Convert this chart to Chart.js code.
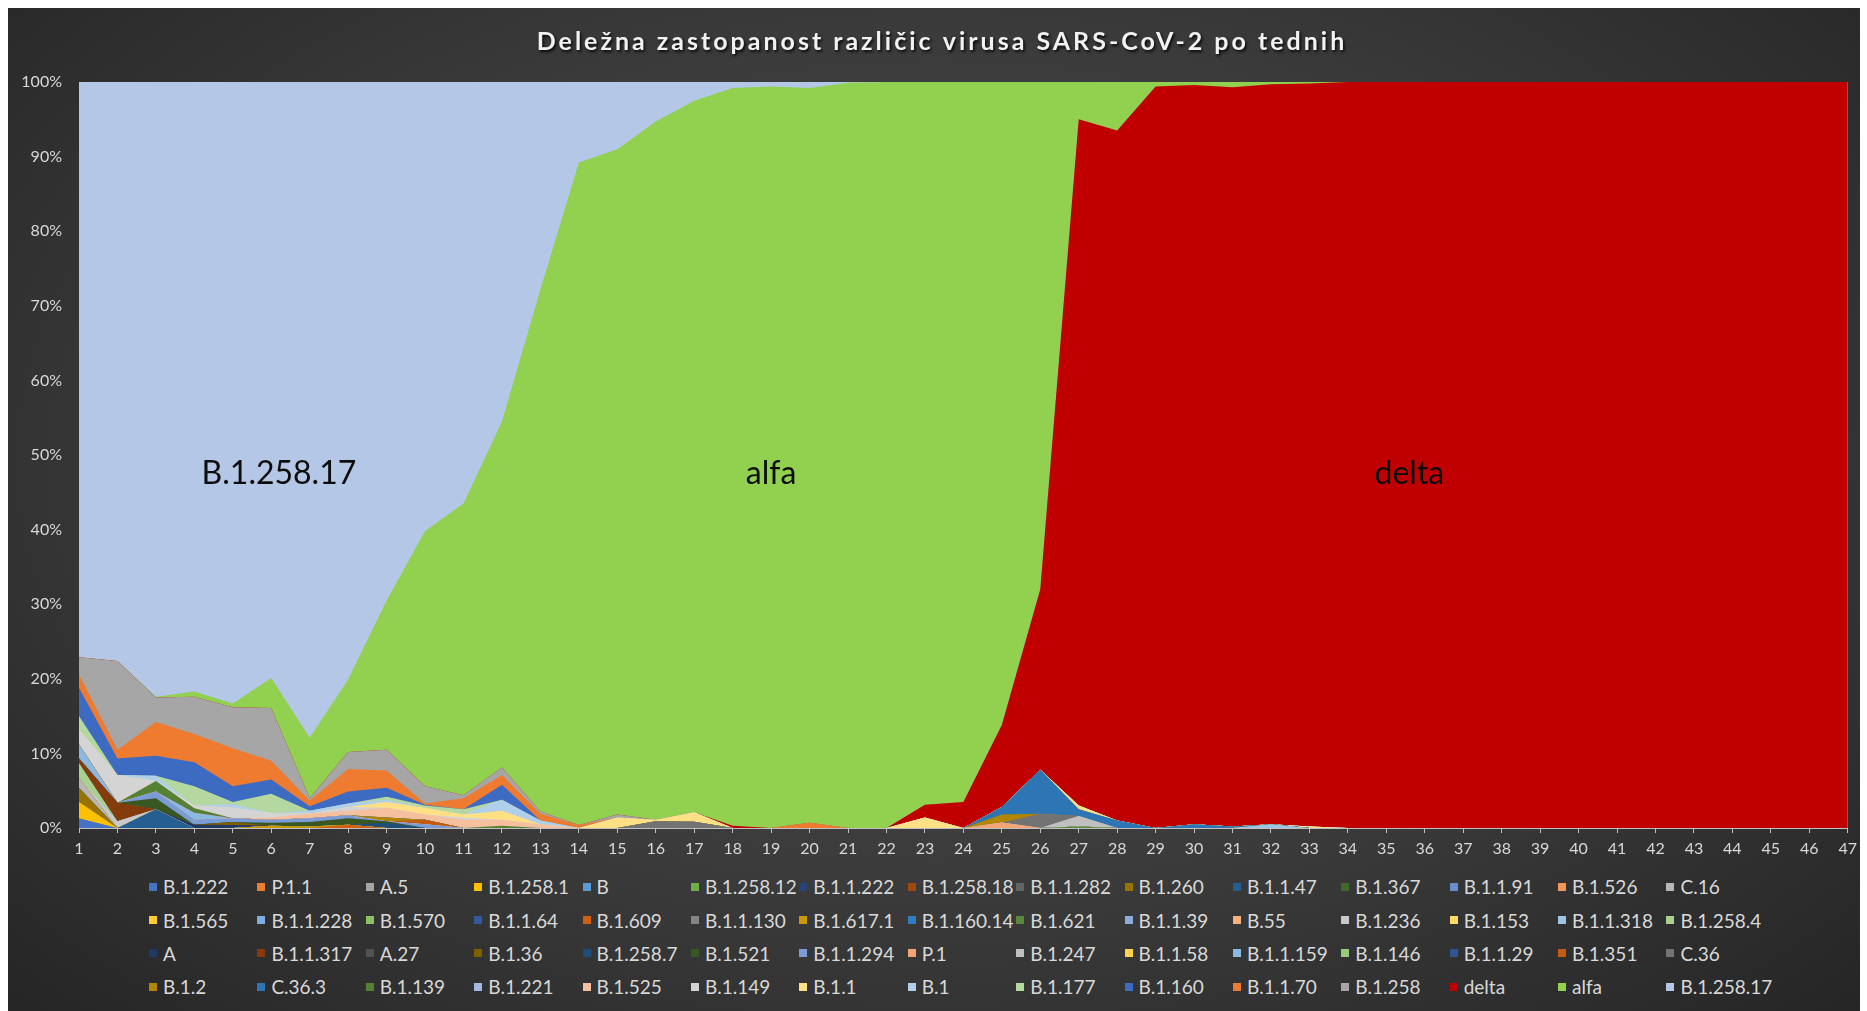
<!DOCTYPE html>
<html lang="sl">
<head>
<meta charset="utf-8">
<title>Deležna zastopanost različic virusa SARS-CoV-2 po tednih</title>
<script src="https://cdn.jsdelivr.net/npm/chart.js@4.4.0/dist/chart.umd.min.js"></script>
<style>
  html, body { margin: 0; padding: 0; background: #fff; width: 1867px; height: 1011px; overflow: hidden; }
  #panel {
    position: absolute; left: 8px; top: 8px; width: 1852px; height: 1003px; overflow: hidden;
    background: radial-gradient(ellipse 75% 85% at 50% 45%, #4a4a4a 0%, #3b3b3b 50%, #222 100%);
  }
  #chart { position: absolute; left: 0; top: 0; }
  #legend {
    position: absolute; left: 141px; top: 862px;
    display: grid; grid-template-columns: repeat(15, 108.4px); grid-auto-rows: 33.4px;
    font-family: Lato, sans-serif; font-size: 19px; color: #d9d9d9;
  }
  .item { display: flex; align-items: center; white-space: nowrap; }
  .box { width: 8px; height: 8px; margin-right: 6px; flex: none; }
</style>
</head>
<body>
<div id="panel">
  <canvas id="chart" width="1855" height="860"></canvas>
  <div id="legend"></div>
</div>
<script>
// tedni
var weeks = ['1','2','3','4','5','6','7','8','9','10','11','12','13','14','15','16','17','18','19','20','21','22','23','24',
             '25','26','27','28','29','30','31','32','33','34','35','36','37','38','39','40','41','42','43','44','45','46','47'];

// vrstni red v skladu (od spodaj navzgor) = vrstni red legende
var variantNames = [
    'B.1.222','P.1.1','A.5','B.1.258.1','B','B.1.258.12','B.1.1.222','B.1.258.18','B.1.1.282','B.1.260','B.1.1.47','B.1.367','B.1.1.91','B.1.526','C.16',
    'B.1.565','B.1.1.228','B.1.570','B.1.1.64','B.1.609','B.1.1.130','B.1.617.1','B.1.160.14','B.1.621','B.1.1.39','B.55','B.1.236','B.1.153','B.1.1.318','B.1.258.4',
    'A','B.1.1.317','A.27','B.1.36','B.1.258.7','B.1.521','B.1.1.294','P.1','B.1.247','B.1.1.58','B.1.1.159','B.1.146','B.1.1.29','B.1.351','C.36',
    'B.1.2','C.36.3','B.1.139','B.1.221','B.1.525','B.1.149','B.1.1','B.1','B.1.177','B.1.160','B.1.1.70','B.1.258','delta','alfa','B.1.258.17'
];
var variantColors = [
    '#4472C4','#ED7D31','#A5A5A5','#FFC000','#5B9BD5','#70AD47','#264478','#9E480E','#636363','#997300','#255E91','#43682B','#698ED0','#F1975A','#B7B7B7',
    '#FFCD33','#7CAFDD','#8CC168','#335AA1','#D26012','#848484','#CC9A00','#327DC2','#5A8A39','#8FAADC','#F4B183','#C9C9C9','#FFD966','#9DC3E6','#A9D18E',
    '#203864','#843C0C','#525252','#7F6000','#1F4E79','#385723','#7C9CD6','#F3A474','#C0C0C0','#FFD34D','#8CB9E2','#9ACB7C','#2F5597','#C55A11','#737373',
    '#B38600','#2E75B6','#548235','#A4B9E4','#F6C09E','#D4D4D4','#FFE085','#B0CFEB','#B5D8A0','#3D6BC2','#EE7B30','#A6A6A6','#C00000','#92D050','#B4C7E7'
];

// delež (%) po tednih, samo različice, ki so na grafu vidne
var B_1_222    = [1.3,0,0,0,0,0,0,0,0,0, 0,0,0,0,0,0,0,0,0,0, 0,0,0,0,0,0,0,0,0,0, 0,0,0,0,0,0,0,0,0,0, 0,0,0,0,0,0,0];
var B_1_258_1  = [2.2,0,0,0,0,0,0,0,0,0, 0,0,0,0,0,0,0,0,0,0, 0,0,0,0,0,0,0,0,0,0, 0,0,0,0,0,0,0,0,0,0, 0,0,0,0,0,0,0];
var B_1_260    = [1.9,0,0,0,0,0,0,0,0,0, 0,0,0,0,0,0,0,0,0,0, 0,0,0,0,0,0,0,0,0,0, 0,0,0,0,0,0,0,0,0,0, 0,0,0,0,0,0,0];
var B_1_1_47   = [0,0,2.5,0,0,0,0,0,0,0, 0,0,0,0,0,0,0,0,0,0, 0,0,0,0,0,0,0,0,0,0, 0,0,0,0,0,0,0,0,0,0, 0,0,0,0,0,0,0];
var C_16       = [1.3,0,0,0,0,0,0,0,0,0, 0,0,0,0,0,0,0,0,0,0, 0,0,0,0,0,0,0,0,0,0, 0,0,0,0,0,0,0,0,0,0, 0,0,0,0,0,0,0];
var B_1_609    = [0,0,0,0,0,0,0,0.45,0,0, 0,0,0,0,0,0,0,0,0,0, 0,0,0,0,0,0,0,0,0,0, 0,0,0,0,0,0,0,0,0,0, 0,0,0,0,0,0,0];
var B_1_617_1  = [0,0,0,0,0,0.3,0.2,0,0,0, 0,0,0,0,0,0,0,0,0,0, 0,0,0,0,0,0,0,0,0,0, 0,0,0,0,0,0,0,0,0,0, 0,0,0,0,0,0,0];
var B_1_621    = [0,0,0,0,0,0,0,0,0,0, 0,0,0,0,0,0,0,0,0,0, 0,0,0,0,0,0,0.2,0,0,0, 0,0,0,0,0,0,0,0,0,0, 0,0,0,0,0,0,0];
var B_1_236    = [0,0.9,0,0,0,0,0,0,0,0, 0,0,0,0,0,0,0,0,0,0, 0,0,0,0,0,0,0,0,0,0, 0,0,0,0,0,0,0,0,0,0, 0,0,0,0,0,0,0];
var B_1_1_318  = [0,0,0,0,0,0,0,0,0,0, 0,0,0,0,0,0,0,0,0,0, 0,0,0,0,0,0,0,0,0,0, 0,0.5,0,0,0,0,0,0,0,0, 0,0,0,0,0,0,0];
var B_1_258_4  = [2.0,0,0,0,0,0,0,0,0,0, 0,0,0,0,0,0,0,0,0,0, 0,0,0,0,0,0,0,0,0,0, 0,0,0,0,0,0,0,0,0,0, 0,0,0,0,0,0,0];
var A          = [0,0,0,0.45,0.4,0,0,0,0,0, 0,0,0,0,0,0,0,0,0,0, 0,0,0,0,0,0,0,0,0,0, 0,0,0,0,0,0,0,0,0,0, 0,0,0,0,0,0,0];
var B_1_1_317  = [0.6,2.5,0,0,0,0,0,0,0,0, 0,0,0,0,0,0,0,0,0,0, 0,0,0,0,0,0,0,0,0,0, 0,0,0,0,0,0,0,0,0,0, 0,0,0,0,0,0,0];
var B_1_36     = [0,0,0,0,0.4,0,0,0,0,0, 0,0,0,0,0,0,0,0,0,0, 0,0,0,0,0,0,0,0,0,0, 0,0,0,0,0,0,0,0,0,0, 0,0,0,0,0,0,0];
var B_1_258_7  = [0,0,0,0,0,0,0,0,0.7,0, 0,0,0,0,0,0,0,0,0,0, 0,0,0,0,0,0,0,0,0,0, 0,0,0,0,0,0,0,0,0,0, 0,0,0,0,0,0,0];
var B_1_521    = [0,0,1.5,0,0,0.4,0.6,0.85,0.2,0, 0,0,0,0,0,0,0,0,0,0, 0,0,0,0,0,0,0,0,0,0, 0,0,0,0,0,0,0,0,0,0, 0,0,0,0,0,0,0];
var B_1_1_294  = [0,0,0.9,0.7,0.5,0.4,0.5,0.4,0,0.5, 0,0,0,0,0,0,0,0,0,0, 0,0,0,0,0,0,0,0,0,0, 0,0,0,0,0,0,0,0,0,0, 0,0,0,0,0,0,0];
var P_1        = [0,0,0,0,0,0,0,0,0,0, 0,0,0,0,0,0,0,0,0,0, 0,0,0,0,0.75,0,0,0,0,0, 0,0,0,0,0,0,0,0,0,0, 0,0,0,0,0,0,0];
var B_1_247    = [0,0,0,0,0,0,0,0,0,0, 0,0,0,0,0,0,0,0,0,0, 0,0,0,0,0,0,1.4,0,0,0, 0,0,0,0,0,0,0,0,0,0, 0,0,0,0,0,0,0];
var B_1_1_159  = [1.9,0,0,0.9,0,0,0,0,0,0, 0,0,0,0,0,0,0,0,0,0, 0,0,0,0,0,0,0,0,0,0, 0,0,0,0,0,0,0,0,0,0, 0,0,0,0,0,0,0];
var B_1_351    = [0,0,0,0,0,0,0,0,0,0.6, 0,0,0,0,0,0,0,0,0,0, 0,0,0,0,0,0,0,0,0,0, 0,0,0,0,0,0,0,0,0,0, 0,0,0,0,0,0,0];
var C_36       = [0,0,0,0,0,0,0,0,0,0, 0,0,0,0,0,0.9,0.85,0,0,0, 0,0,0,0,0,1.9,0,0,0,0, 0,0,0,0,0,0,0,0,0,0, 0,0,0,0,0,0,0];
var B_1_2      = [0,0,0,0,0,0,0,0,0.5,0, 0,0,0,0,0,0,0,0,0,0, 0,0,0,0,1.05,0,0,0,0,0, 0,0,0,0,0,0,0,0,0,0, 0,0,0,0,0,0,0];
var C_36_3     = [0,0,0,0,0,0,0,0,0,0, 0,0,0,0,0,0,0,0,0,0, 0,0,0,0,1.0,5.9,0.9,1.0,0,0.5, 0.2,0,0,0,0,0,0,0,0,0, 0,0,0,0,0,0,0];
var B_1_139    = [0,0,1.4,0.6,0,0,0,0,0,0, 0,0.3,0,0,0,0,0,0,0,0, 0,0,0,0,0,0,0,0,0,0, 0,0,0,0,0,0,0,0,0,0, 0,0,0,0,0,0,0];
var B_1_525    = [0,0,0,0,0,0.3,0.6,0.6,1.3,0.7, 1.1,0.8,0.5,0,0,0,0,0,0,0, 0,0,0,0,0,0,0,0,0,0, 0,0,0,0,0,0,0,0,0,0, 0,0,0,0,0,0,0];
var B_1_149    = [2.0,3.7,0,0.35,1.4,0.6,0,0.5,0,0, 0.3,0,0,0,0,0,0,0,0,0, 0,0,0,0,0,0,0,0,0,0, 0,0,0,0,0,0,0,0,0,0, 0,0,0,0,0,0,0];
var B_1_1      = [0,0,0,0,0,0,0,0,0.8,0.9, 0.4,1.2,0,0,1.4,0.2,1.25,0,0,0, 0,0,1.4,0,0,0,0.5,0,0,0, 0,0,0.2,0,0,0,0,0,0,0, 0,0,0,0,0,0,0];
var B_1        = [0,0,0.7,0,0.5,0,0.4,0.5,0.3,0, 0,1.5,0.5,0,0,0,0,0,0,0, 0,0,0,0,0,0,0,0,0,0, 0,0,0,0,0,0,0,0,0,0, 0,0,0,0,0,0,0];
var B_1_177    = [1.8,0,0,2.6,0.3,2.6,0,0,0.4,0.3, 0.7,0,0,0,0,0,0,0,0,0, 0,0,0,0,0,0,0,0,0,0, 0,0,0,0,0,0,0,0,0,0, 0,0,0,0,0,0,0];
var B_1_160    = [3.8,2.2,2.7,3.2,2.1,1.9,0.6,1.6,1.2,0.1, 0,2.0,0,0,0,0,0,0,0,0, 0,0,0,0,0,0,0,0,0,0, 0,0,0,0,0,0,0,0,0,0, 0,0,0,0,0,0,0];
var B_1_1_70   = [1.8,1.2,4.5,3.8,5.1,2.5,0.8,3.0,2.3,0.2, 1.5,1.3,0.9,0.4,0,0,0,0,0,0.7, 0,0,0,0,0,0,0,0,0,0, 0,0,0,0,0,0,0,0,0,0, 0,0,0,0,0,0,0];
var B_1_258    = [2.3,11.9,3.3,5.0,5.5,7.1,0.3,2.3,2.8,2.3, 0.4,1.0,0.3,0,0.4,0,0,0,0,0, 0,0,0,0,0,0,0,0,0,0, 0,0,0,0,0,0,0,0,0,0, 0,0,0,0,0,0,0];
var delta      = [0,0,0,0,0,0,0,0,0,0, 0,0,0,0,0,0,0,0.3,0,0, 0,0,1.7,3.5,11.0,24.2,92.0,92.5,99.4,99.1,
                  99.1,99.2,99.6,100,100,100,100,100,100,100, 100,100,100,100,100,100,100];
var alfa       = [0,0,0.1,0.7,0.5,4.0,8.1,9.7,20.0,34.2, 39.1,46.4,70.0,88.8,89.2,93.6,95.4,98.9,99.4,98.5,
                  99.9,100,96.9,96.5,86.2,68.0,5.0,6.5,0.6,0.4, 0.7,0.3,0.2,0,0,0,0,0,0,0, 0,0,0,0,0,0,0];
var B_1_258_17 = [77.1,77.6,82.4,81.7,83.3,79.9,87.9,80.1,69.5,60.2, 56.5,45.5,27.8,10.8,9.0,5.3,2.5,0.8,0.6,0.8,
                  0.1,0,0,0,0,0,0,0,0,0, 0,0,0,0,0,0,0,0,0,0, 0,0,0,0,0,0,0];

var plottedNames  = ['B.1.222','B.1.258.1','B.1.260','B.1.1.47','C.16','B.1.609','B.1.617.1','B.1.621','B.1.236','B.1.1.318','B.1.258.4',
                     'A','B.1.1.317','B.1.36','B.1.258.7','B.1.521','B.1.1.294','P.1','B.1.247','B.1.1.159','B.1.351','C.36',
                     'B.1.2','C.36.3','B.1.139','B.1.525','B.1.149','B.1.1','B.1','B.1.177','B.1.160','B.1.1.70','B.1.258',
                     'delta','alfa','B.1.258.17'];
var plottedShares = [B_1_222, B_1_258_1, B_1_260, B_1_1_47, C_16, B_1_609, B_1_617_1, B_1_621, B_1_236, B_1_1_318, B_1_258_4,
                     A, B_1_1_317, B_1_36, B_1_258_7, B_1_521, B_1_1_294, P_1, B_1_247, B_1_1_159, B_1_351, C_36,
                     B_1_2, C_36_3, B_1_139, B_1_525, B_1_149, B_1_1, B_1, B_1_177, B_1_160, B_1_1_70, B_1_258,
                     delta, alfa, B_1_258_17];

// napisi v ploskvah (teden, delež)
var areaLabelTexts = ['B.1.258.17', 'alfa', 'delta'];
var areaLabelWeeks = [6.2, 19.0, 35.6];
var areaLabelShares = [47.5, 47.5, 47.5];

var chartTitle = 'Deležna zastopanost različic virusa SARS-CoV-2 po tednih';
var fontFamily = 'Lato, "Open Sans", sans-serif';

// podatkovni nizi za Chart.js
var datasets = [];
for (var i = 0; i < plottedNames.length; i++) {
    var color = variantColors[variantNames.indexOf(plottedNames[i])];
    datasets.push({
        label: plottedNames[i],
        data: plottedShares[i],
        backgroundColor: color,
        borderColor: 'rgba(0,0,0,0)',
        borderWidth: 0,
        pointRadius: 0,
        pointHoverRadius: 0,
        tension: 0,
        fill: 'origin'
    });
}

// naslov s senco in razmikom črk
var titlePlugin = {
    id: 'shadowTitle',
    afterDraw: function (chart) {
        var ctx = chart.ctx;
        ctx.save();
        ctx.font = 'bold 25px ' + fontFamily;
        if ('letterSpacing' in ctx) ctx.letterSpacing = '3px';
        ctx.fillStyle = '#f2f2f2';
        ctx.textAlign = 'center';
        ctx.textBaseline = 'middle';
        ctx.shadowColor = 'rgba(0,0,0,0.85)';
        ctx.shadowOffsetX = 1.5;
        ctx.shadowOffsetY = 2;
        ctx.shadowBlur = 3;
        ctx.fillText(chartTitle, 934, 34);
        ctx.restore();
    }
};

// napisi "B.1.258.17", "alfa", "delta"
var areaLabelsPlugin = {
    id: 'areaLabels',
    afterDatasetsDraw: function (chart) {
        var ctx = chart.ctx;
        var xs = chart.scales.x, ys = chart.scales.y;
        ctx.save();
        ctx.fillStyle = '#0d0d0d';
        ctx.font = '32px ' + fontFamily;
        ctx.textAlign = 'center';
        ctx.textBaseline = 'middle';
        for (var i = 0; i < areaLabelTexts.length; i++) {
            ctx.fillText(areaLabelTexts[i], xs.getPixelForValue(areaLabelWeeks[i] - 1), ys.getPixelForValue(areaLabelShares[i]));
        }
        ctx.restore();
    }
};

var myChart = new Chart(document.getElementById('chart').getContext('2d'), {
    type: 'line',
    data: { labels: weeks, datasets: datasets },
    plugins: [areaLabelsPlugin, titlePlugin],
    options: {
        responsive: false,
        animation: false,
        layout: { padding: { left: 0, right: 0, top: 74, bottom: 0 } },
        plugins: {
            legend: { display: false },
            tooltip: { enabled: false },
            title: { display: false }
        },
        scales: {
            x: {
                offset: false,
                grid: { display: true, drawOnChartArea: false, drawTicks: true, tickLength: 5, color: '#bfbfbf' },
                border: { display: true, color: '#bfbfbf', width: 1 },
                ticks: { color: '#d9d9d9', font: { family: fontFamily, size: 16 }, padding: 6, autoSkip: false, maxRotation: 0 },
                afterFit: function (s) { s.height = 40; }
            },
            y: {
                stacked: true,
                min: 0,
                max: 100,
                grid: { display: false, drawTicks: false },
                border: { display: false },
                ticks: {
                    stepSize: 10,
                    color: '#d9d9d9',
                    font: { family: fontFamily, size: 16 },
                    padding: 17,
                    callback: function (v) { return v + '%'; }
                },
                afterFit: function (s) { s.width = 71; }
            }
        }
    }
});

// legenda (mreža 15 stolpcev)
var legend = document.getElementById('legend');
for (var i = 0; i < variantNames.length; i++) {
    var item = document.createElement('div');
    item.className = 'item';
    item.innerHTML = '<span class="box" style="background:' + variantColors[i] + '"></span>' + variantNames[i];
    legend.appendChild(item);
}
</script>
</body>
</html>
